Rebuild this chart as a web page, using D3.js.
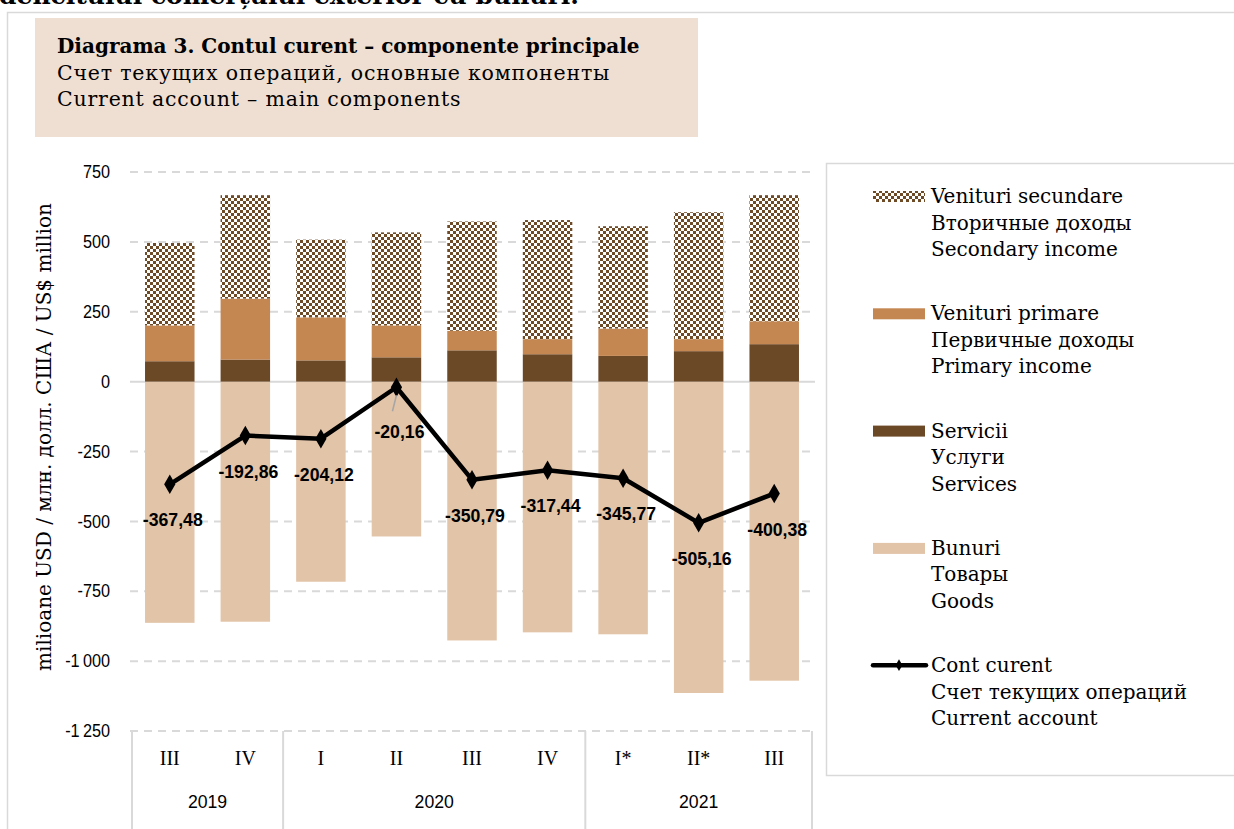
<!DOCTYPE html>
<html>
<head>
<meta charset="utf-8">
<script src="https://cdn.jsdelivr.net/npm/d3@7"></script>
<style>
  body { margin: 0; background: #fff; }
  svg { display: block; }
  .serif { font-family: "DejaVu Serif", serif; }
  .tserif { font-family: "Liberation Serif", "Times New Roman", serif; }
  .sans { font-family: "Liberation Sans", Arial, sans-serif; }
</style>
</head>
<body>
<svg class="chart"></svg>
<script>
const width = 1234;
const height = 829;

// data (USD million)
const categories = ["III", "IV", "I", "II", "III", "IV", "I*", "II*", "III"];
const yearLabels = ["2019", "2020", "2021"];
const yearCounts = [2, 4, 3];
const goods = [-863, -859, -716, -554, -926, -897, -904, -1114, -1070];
const services = [73, 79, 76, 87, 112, 98, 92, 109, 134];
const primaryIncome = [128, 218, 154, 114, 70, 54, 98, 43, 82];
const secondaryIncome = [295, 370, 278, 333, 391, 426, 366, 454, 451];
const currentAccount = [-367.48, -192.86, -204.12, -20.16, -350.79, -317.44, -345.77, -505.16, -400.38];
const yTicks = [750, 500, 250, 0, -250, -500, -750, -1000, -1250];

const colors = {
  goods: "#e2c4a8",
  services: "#6b4826",
  primary: "#c48752",
  secondary: "#6e4a26"
};
const squeeze = 0.93; // slightly narrower sans, closer to the original's font

const svg = d3.select('.chart')
  .attr('width', width).attr('height', height);

// checker pattern for secondary income
const defs = svg.append('defs');
const pat = defs.append('pattern')
  .attr('id', 'checker')
  .attr('patternUnits', 'userSpaceOnUse')
  .attr('width', 6).attr('height', 6);
pat.append('rect').attr('width', 6).attr('height', 6).attr('fill', '#fff');
pat.append('rect').attr('width', 3).attr('height', 3).attr('fill', colors.secondary);
pat.append('rect').attr('x', 3).attr('y', 3).attr('width', 3).attr('height', 3).attr('fill', colors.secondary);

// page fragment above the chart (cut off)
svg.append('text')
  .attr('class', 'serif')
  .attr('x', -1).attr('y', 4)
  .style('font-size', '25px').style('font-weight', 'bold')
  .text('deficitului comerțului exterior cu bunuri.');

// outer frame
svg.append('path')
  .attr('d', `M7.5,${height} V12.5 H${width}`)
  .attr('fill', 'none').attr('stroke', '#d9d9d9').attr('stroke-width', 1.5);

// title box
svg.append('rect')
  .attr('x', 35).attr('y', 18).attr('width', 663).attr('height', 119)
  .attr('fill', '#efdfd2');
const titleLines = [
  { t: 'Diagrama 3. Contul curent – componente principale', bold: true },
  { t: 'Счет текущих операций, основные компоненты', bold: false },
  { t: 'Current account – main components', bold: false }
];
svg.append('g').selectAll('text')
  .data(titleLines)
  .enter().append('text')
  .attr('class', 'serif')
  .attr('x', 57)
  .attr('y', (d, i) => 53 + i * 26.5)
  .style('font-size', d => d.bold ? '20px' : '20.5px')
  .style('letter-spacing', d => d.bold ? '0px' : '0.8px')
  .style('font-weight', d => d.bold ? 'bold' : 'normal')
  .text(d => d.t);

// scales
const x = d3.scaleBand()
  .domain(d3.range(categories.length))
  .range([132, 812])
  .paddingInner(0.345)
  .paddingOuter(0.1725);
const y = d3.scaleLinear()
  .domain([-1250, 750])
  .range([731, 172]);

const locale = d3.formatLocale({ decimal: ",", thousands: "\u2009", grouping: [3], currency: ["", ""], minus: "-" });
const tickFmt = locale.format(",d");
const labelFmt = locale.format(".2f");

// gridlines
svg.append('g').selectAll('line')
  .data(yTicks)
  .enter().append('line')
  .attr('x1', 130).attr('x2', 815)
  .attr('y1', d => y(d)).attr('y2', d => y(d))
  .attr('stroke', '#d9d9d9')
  .attr('stroke-width', 2)
  .attr('stroke-dasharray', d => d === 0 ? null : '8,6');

// y axis labels
svg.append('g').selectAll('text')
  .data(yTicks)
  .enter().append('text')
  .attr('class', 'sans')
  .attr('transform', d => `translate(110,${y(d)}) scale(${squeeze},1)`)
  .attr('dy', '0.35em')
  .attr('text-anchor', 'end')
  .style('font-size', '17.5px')
  .text(d => tickFmt(d));

svg.append('text')
  .attr('class', 'serif')
  .attr('transform', 'translate(51,437) rotate(-90)')
  .attr('text-anchor', 'middle')
  .style('font-size', '20px')
  .text('milioane USD / млн. долл. США  / US$ million');

// stacked bars
const rows = categories.map((c, i) => ({
  i: i,
  goods: goods[i],
  services: services[i],
  primary: primaryIncome[i],
  secondary: secondaryIncome[i]
}));
const keys = ['goods', 'services', 'primary', 'secondary'];
const series = d3.stack().keys(keys).offset(d3.stackOffsetDiverging)(rows);

svg.append('g').selectAll('g')
  .data(series)
  .enter().append('g')
  .attr('fill', d => d.key === 'secondary' ? 'url(#checker)' : colors[d.key])
  .selectAll('rect')
  .data(d => d)
  .enter().append('rect')
  .attr('x', d => x(d.data.i))
  .attr('width', x.bandwidth())
  .attr('y', d => y(Math.max(d[0], d[1])))
  .attr('height', d => Math.abs(y(d[0]) - y(d[1])));

// x axis: quarters and years
const xAxis = svg.append('g');
xAxis.selectAll('.q')
  .data(categories)
  .enter().append('text')
  .attr('class', 'tserif')
  .attr('x', (d, i) => x(i) + x.bandwidth() / 2)
  .attr('y', 765)
  .attr('text-anchor', 'middle')
  .style('font-size', '20px')
  .text(d => d);

const step = x.step();
const half = step * x.paddingInner() / 2;
const edge = i => i < categories.length ? x(i) - half : x(categories.length - 1) + x.bandwidth() + half;
let starts = [0];
yearCounts.forEach((c, i) => starts.push(starts[i] + c));
xAxis.selectAll('.sep')
  .data(starts)
  .enter().append('line')
  .attr('x1', d => edge(d)).attr('x2', d => edge(d))
  .attr('y1', 731).attr('y2', height)
  .attr('stroke', '#d9d9d9').attr('stroke-width', 2);
xAxis.selectAll('.yr')
  .data(yearLabels)
  .enter().append('text')
  .attr('class', 'sans')
  .attr('transform', (d, i) => `translate(${(edge(starts[i]) + edge(starts[i + 1])) / 2},808) scale(${squeeze},1)`)
  .attr('text-anchor', 'middle')
  .style('font-size', '19px')
  .text(d => d);

// current account line
const line = d3.line()
  .x((d, i) => x(i) + x.bandwidth() / 2)
  .y(d => y(d));
svg.append('path')
  .datum(currentAccount)
  .attr('d', line)
  .attr('fill', 'none')
  .attr('stroke', '#000')
  .attr('stroke-width', 4.5)
  .attr('stroke-linejoin', 'round');

const diamond = d3.symbol().type(d3.symbolDiamond).size(110);
svg.append('g').selectAll('path')
  .data(currentAccount)
  .enter().append('path')
  .attr('d', diamond)
  .attr('transform', (d, i) => `translate(${x(i) + x.bandwidth() / 2},${y(d)})`)
  .attr('fill', '#000');

// leader for the label that sits far from its point
svg.append('line')
  .attr('x1', x(3) + x.bandwidth() / 2 - 4).attr('y1', y(currentAccount[3]) + 24)
  .attr('x2', x(3) + x.bandwidth() / 2).attr('y2', y(currentAccount[3]) + 8)
  .attr('stroke', '#a6a6a6').attr('stroke-width', 1.5);

svg.append('g').selectAll('text')
  .data(currentAccount)
  .enter().append('text')
  .attr('class', 'sans')
  .attr('transform', (d, i) => `translate(${x(i) + x.bandwidth() / 2 + 3},${y(d) + (i === 3 ? 51 : 42)}) scale(${squeeze},1)`)
  .attr('text-anchor', 'middle')
  .style('font-size', '19px')
  .style('font-weight', 'bold')
  .text(d => labelFmt(d));

// legend
svg.append('path')
  .attr('d', `M${width},163.5 H826.5 V775.5 H${width}`)
  .attr('fill', 'none').attr('stroke', '#d9d9d9').attr('stroke-width', 1.5);

const legendItems = [
  { key: 'secondary', lines: ['Venituri secundare', 'Вторичные доходы', 'Secondary income'] },
  { key: 'primary', lines: ['Venituri primare', 'Первичные доходы', 'Primary income'] },
  { key: 'services', lines: ['Servicii', 'Услуги', 'Services'] },
  { key: 'goods', lines: ['Bunuri', 'Товары', 'Goods'] },
  { key: 'line', lines: ['Cont curent', 'Счет текущих операций', 'Current account'] }
];
const leg = svg.append('g').selectAll('g')
  .data(legendItems)
  .enter().append('g')
  .attr('transform', (d, i) => `translate(873,${196 + i * 117.3})`);
leg.filter(d => d.key !== 'line').append('rect')
  .attr('x', 0).attr('y', -5).attr('width', 52).attr('height', 11)
  .attr('fill', d => d.key === 'secondary' ? 'url(#checker)' : colors[d.key]);
const lineLeg = leg.filter(d => d.key === 'line');
lineLeg.append('line')
  .attr('x1', 0).attr('x2', 53).attr('y1', 0).attr('y2', 0)
  .attr('stroke', '#000').attr('stroke-width', 4.5).attr('stroke-linecap', 'round');
lineLeg.append('path')
  .attr('d', d3.symbol().type(d3.symbolDiamond).size(40))
  .attr('transform', 'translate(26,0)')
  .attr('fill', '#000');
leg.selectAll('text')
  .data(d => d.lines)
  .enter().append('text')
  .attr('class', 'serif')
  .attr('x', 58)
  .attr('y', (d, i) => 7 + i * 26.5)
  .style('font-size', '20px')
  .text(d => d);
</script>
</body>
</html>
